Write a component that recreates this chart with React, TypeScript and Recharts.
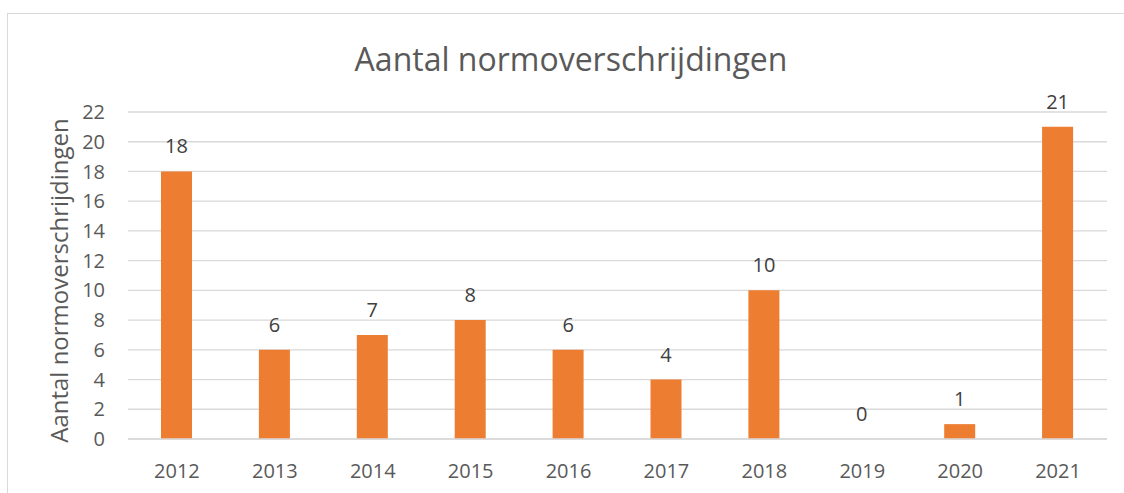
import React from "react";
import { BarChart, Bar, XAxis, YAxis, CartesianGrid, LabelList, Label } from "recharts";

const years = ["2012", "2013", "2014", "2015", "2016", "2017", "2018", "2019", "2020", "2021"];
const counts = [18, 6, 7, 8, 6, 4, 10, 0, 1, 21];
const yTicks = [0, 2, 4, 6, 8, 10, 12, 14, 16, 18, 20, 22];

const data = years.map((y, i) => ({ year: y, value: counts[i] }));

const FONT = "'Open Sans', 'Noto Sans', sans-serif";

const AxisTitle = (props: any) => {
  const vb = props.viewBox || {};
  const cx = 58;
  const cy = (vb.y ?? 112) + (vb.height ?? 327) / 2 + 5;
  return (
    <text
      x={cx}
      y={cy}
      transform={`rotate(-90 ${cx} ${cy})`}
      textAnchor="middle"
      dominantBaseline="central"
      fill="#595959"
      fontSize={24}
      fontFamily={FONT}
    >
      Aantal normoverschrijdingen
    </text>
  );
};

export default function App() {
  return (
    <div style={{ position: "relative", width: 1124, height: 493, overflow: "hidden", background: "#fff" }}>
      <style>{"body{margin:0}"}</style>
      <div
        style={{
          position: "absolute",
          left: 7,
          top: 13,
          width: 1140,
          height: 520,
          border: "1px solid #D9D9D9",
          boxSizing: "border-box",
        }}
      />
      <div
        style={{
          position: "absolute",
          left: 0,
          width: 1142,
          top: 38,
          textAlign: "center",
          fontFamily: FONT,
          fontSize: 32,
          color: "#595959",
          lineHeight: "42px",
        }}
      >
        Aantal normoverschrijdingen
      </div>
      <div style={{ position: "absolute", left: 0, top: 0 }}>
        <BarChart
          width={1124}
          height={493}
          data={data}
          margin={{ top: 112, right: 17, left: 0, bottom: 0 }}
        >
          <CartesianGrid vertical={false} stroke="#D9D9D9" strokeWidth={1.3} />
          <XAxis
            dataKey="year"
            height={54}
            tickLine={false}
            tickSize={0}
            tickMargin={25}
            axisLine={{ stroke: "#D9D9D9", strokeWidth: 1.3 }}
            tick={{ fill: "#595959", fontSize: 20, fontFamily: FONT }}
            interval={0}
          />
          <YAxis
            width={128}
            domain={[0, 22]}
            ticks={yTicks}
            interval={0}
            axisLine={false}
            tickLine={false}
            tickSize={0}
            tickMargin={23}
            tick={{ fill: "#595959", fontSize: 20, fontFamily: FONT }}
          >
            <Label content={<AxisTitle />} />
          </YAxis>
          <Bar
            dataKey="value"
            fill="#ED7D31"
            barSize={31}
            minPointSize={(v: number) => (v === 0 ? 0.01 : 0)}
            isAnimationActive={false}
          >
            <LabelList
              dataKey="value"
              position="top"
              offset={18}
              style={{ fill: "#404040", fontSize: 20, fontFamily: FONT }}
            />
          </Bar>
        </BarChart>
      </div>
    </div>
  );
}
